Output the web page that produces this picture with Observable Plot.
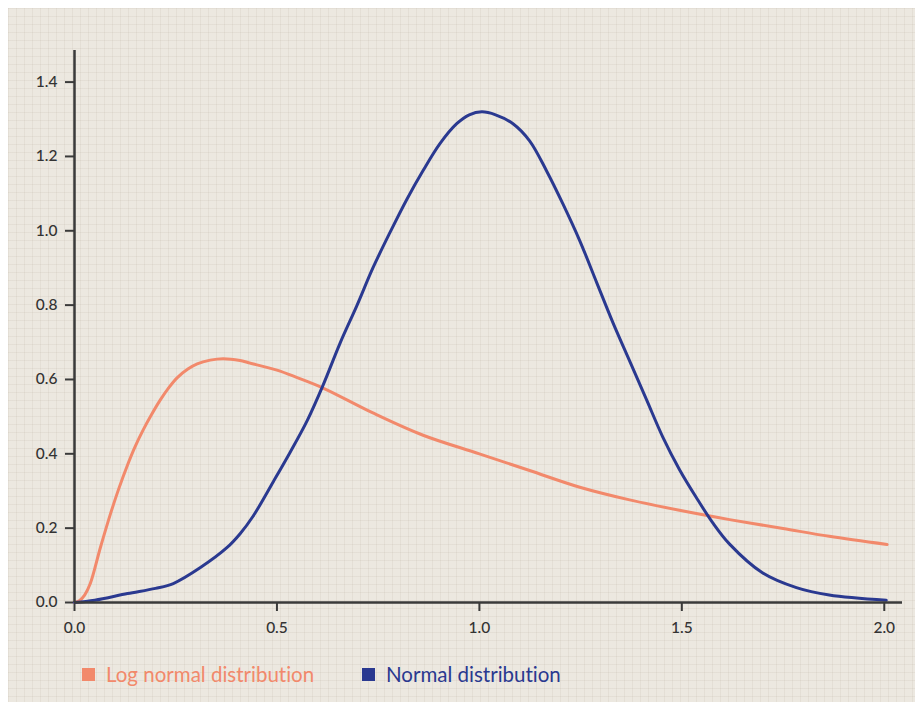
<!DOCTYPE html>
<html>
<head>
<meta charset="utf-8">
<script src="https://cdn.jsdelivr.net/npm/d3@7"></script>
<script src="https://cdn.jsdelivr.net/npm/@observablehq/plot@0.6"></script>
<style>
  html, body { margin: 0; padding: 0; background: #fff; }
  body { padding: 8px 0 0 8px; }
  #wrap {
    width: 907px; height: 694px; overflow: hidden;
    background-color: #ece8e0;
    background-image:
      linear-gradient(to right, rgba(200,190,175,0.22) 1px, transparent 1px),
      linear-gradient(to bottom, rgba(200,190,175,0.22) 1px, transparent 1px);
    background-size: 8px 8px;
    font-family: Lato, "Open Sans", sans-serif;
    font-variant-ligatures: none;
  }
  #legend { position: relative; height: 40px; font-size: 20.5px; }
  .item { position: absolute; top: 18px; display: flex; align-items: center; }
  .sw { width: 13px; height: 13px; margin-right: 11px; }
  svg text { font-weight: 500; }
</style>
</head>
<body>
<div id="wrap">
  <div id="chart"></div>
  <div id="legend"></div>
</div>
<script>
const seriesNames = ["Log normal distribution", "Normal distribution"];
const seriesColors = ["#f2896b", "#2a3990"];

const logNormalX = [0, 0.012, 0.025, 0.039, 0.064, 0.089, 0.109, 0.131, 0.15, 0.17, 0.19, 0.212, 0.233, 0.254, 0.28, 0.303, 0.335, 0.367, 0.409, 0.43, 0.5, 0.55, 0.614, 0.737, 0.861, 1.0, 1.124, 1.248, 1.371, 1.494, 1.618, 1.75, 1.864, 2.007];
const logNormalY = [0, 0.005, 0.02, 0.051, 0.148, 0.239, 0.305, 0.37, 0.42, 0.465, 0.505, 0.545, 0.578, 0.605, 0.628, 0.642, 0.652, 0.656, 0.651, 0.645, 0.625, 0.605, 0.577, 0.51, 0.45, 0.40, 0.355, 0.31, 0.276, 0.248, 0.223, 0.199, 0.178, 0.156];

const normalX = [0, 0.05, 0.131, 0.2, 0.244, 0.311, 0.377, 0.409, 0.441, 0.491, 0.533, 0.575, 0.614, 0.656, 0.698, 0.737, 0.779, 0.821, 0.861, 0.903, 0.944, 0.975, 1.006, 1.04, 1.083, 1.124, 1.166, 1.206, 1.248, 1.29, 1.329, 1.371, 1.413, 1.453, 1.494, 1.536, 1.576, 1.618, 1.699, 1.783, 1.864, 2.005];
const normalY = [0, 0.006, 0.024, 0.038, 0.051, 0.094, 0.148, 0.185, 0.232, 0.325, 0.405, 0.49, 0.585, 0.698, 0.80, 0.90, 0.995, 1.085, 1.162, 1.235, 1.288, 1.312, 1.32, 1.312, 1.288, 1.242, 1.161, 1.073, 0.973, 0.86, 0.755, 0.65, 0.545, 0.445, 0.358, 0.282, 0.215, 0.157, 0.08, 0.04, 0.02, 0.006];

const xTicks = [0, 0.5, 1.0, 1.5, 2.0];
const yTicks = [0, 0.2, 0.4, 0.6, 0.8, 1.0, 1.2, 1.4];

const logNormal = logNormalX.map((x, i) => ({x, y: logNormalY[i]}));
const normal = normalX.map((x, i) => ({x, y: normalY[i]}));

const axisColor = "#3a3a3a";
const chart = Plot.plot({
  width: 907,
  height: 636,
  marginLeft: 66,
  marginRight: 13,
  marginTop: 42,
  marginBottom: 42,
  style: {background: "transparent", fontFamily: "Lato, 'Open Sans', sans-serif", fontSize: "15px", color: "#333"},
  x: {domain: [0, 2.045]},
  y: {domain: [0, 1.485]},
  marks: [
    Plot.axisX({ticks: xTicks, tickFormat: d3.format(".1f"), tickSize: 9, tickPadding: 10, stroke: axisColor, strokeWidth: 2, label: null, fontSize: 15.5, fill: "#333"}),
    Plot.axisY({ticks: yTicks, tickFormat: d3.format(".1f"), tickSize: 9, tickPadding: 8, stroke: axisColor, strokeWidth: 2, label: null, fontSize: 15.5, fill: "#333"}),
    Plot.line(logNormal, {x: "x", y: "y", stroke: seriesColors[0], strokeWidth: 3, curve: "catmull-rom"}),
    Plot.line(normal, {x: "x", y: "y", stroke: seriesColors[1], strokeWidth: 3, curve: "catmull-rom"}),
    Plot.ruleY([0], {stroke: axisColor, strokeWidth: 2.5}),
    Plot.ruleX([0], {stroke: axisColor, strokeWidth: 2.5})
  ]
});
document.getElementById("chart").appendChild(chart);

const legend = document.getElementById("legend");
const lefts = [74, 354];
seriesNames.forEach((name, i) => {
  const item = document.createElement("div");
  item.className = "item";
  item.style.left = lefts[i] + "px";
  item.style.color = seriesColors[i];
  const sw = document.createElement("div");
  sw.className = "sw";
  sw.style.background = seriesColors[i];
  item.appendChild(sw);
  const t = document.createElement("span");
  t.textContent = name;
  item.appendChild(t);
  legend.appendChild(item);
});
</script>
</body>
</html>
